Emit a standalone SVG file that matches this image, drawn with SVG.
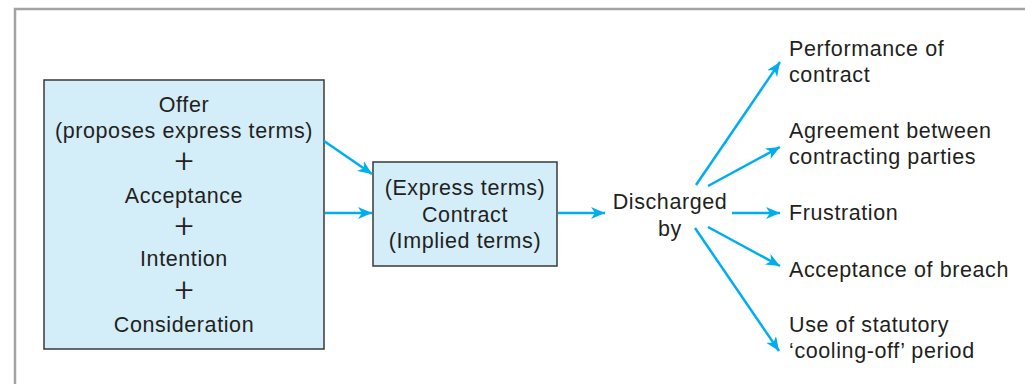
<svg xmlns="http://www.w3.org/2000/svg" width="1025" height="384" viewBox="0 0 1025 384">
<style>
.t{font-family:"Liberation Sans",Arial,sans-serif;font-size:21.5px;fill:#231f20;letter-spacing:0.6px}
.c{text-anchor:middle}
.plus{font-family:Roboto,"Liberation Sans",sans-serif;font-weight:300;font-size:34px;fill:#231f20;text-anchor:middle}
.box{fill:#d3edf9;stroke:#3a3a3a;stroke-width:1.5}
.ar{stroke:#00aeef;stroke-width:2.5;fill:none;marker-end:url(#ah)}
</style>
<defs>
<marker id="ah" markerUnits="userSpaceOnUse" markerWidth="16" markerHeight="14" refX="14" refY="6" orient="auto">
<path d="M0,0 L14,6 L0,12 L4,6 z" fill="#00aeef"/>
</marker>
</defs>
<rect x="0" y="0" width="1025" height="384" fill="#ffffff"/>
<rect x="15" y="9" width="1030" height="400" fill="none" stroke="#a3a3a3" stroke-width="2.5"/>
<g id="requirements">
<rect class="box" x="44" y="80" width="280" height="269"/>
<text class="t c" x="184" y="112">Offer</text>
<text class="t c" x="184" y="138">(proposes express terms)</text>
<text class="plus" x="184" y="172">+</text>
<text class="t c" x="184" y="203">Acceptance</text>
<text class="plus" x="184" y="237">+</text>
<text class="t c" x="184" y="266">Intention</text>
<text class="plus" x="184" y="301">+</text>
<text class="t c" x="184" y="332">Consideration</text>
</g>
<g id="contract">
<rect class="box" x="373" y="162" width="184" height="104"/>
<text class="t c" x="465" y="195">(Express terms)</text>
<text class="t c" x="465" y="222">Contract</text>
<text class="t c" x="465" y="248">(Implied terms)</text>
</g>
<g id="discharged">
<text class="t c" x="670" y="209">Discharged</text>
<text class="t c" x="670" y="236">by</text>
</g>
<g id="performance">
<text class="t" x="789" y="56">Performance of</text>
<text class="t" x="789" y="82">contract</text>
</g>
<g id="agreement">
<text class="t" x="789" y="138">Agreement between</text>
<text class="t" x="789" y="164">contracting parties</text>
</g>
<g id="frustration">
<text class="t" x="789" y="220">Frustration</text>
</g>
<g id="breach">
<text class="t" x="789" y="277">Acceptance of breach</text>
</g>
<g id="cooling-off">
<text class="t" x="789" y="332">Use of statutory</text>
<text class="t" x="789" y="358">‘cooling-off’ period</text>
</g>
<g id="connectors">
<line class="ar" x1="324" y1="141" x2="372" y2="174"/>
<line class="ar" x1="325" y1="213" x2="372" y2="213"/>
<line class="ar" x1="558" y1="213" x2="605" y2="213"/>
<line class="ar" x1="696" y1="185" x2="780" y2="62"/>
<line class="ar" x1="708" y1="186" x2="780" y2="147"/>
<line class="ar" x1="732" y1="213" x2="780" y2="213"/>
<line class="ar" x1="708" y1="227" x2="780" y2="266"/>
<line class="ar" x1="695" y1="228" x2="779" y2="351"/>
</g>
</svg>
